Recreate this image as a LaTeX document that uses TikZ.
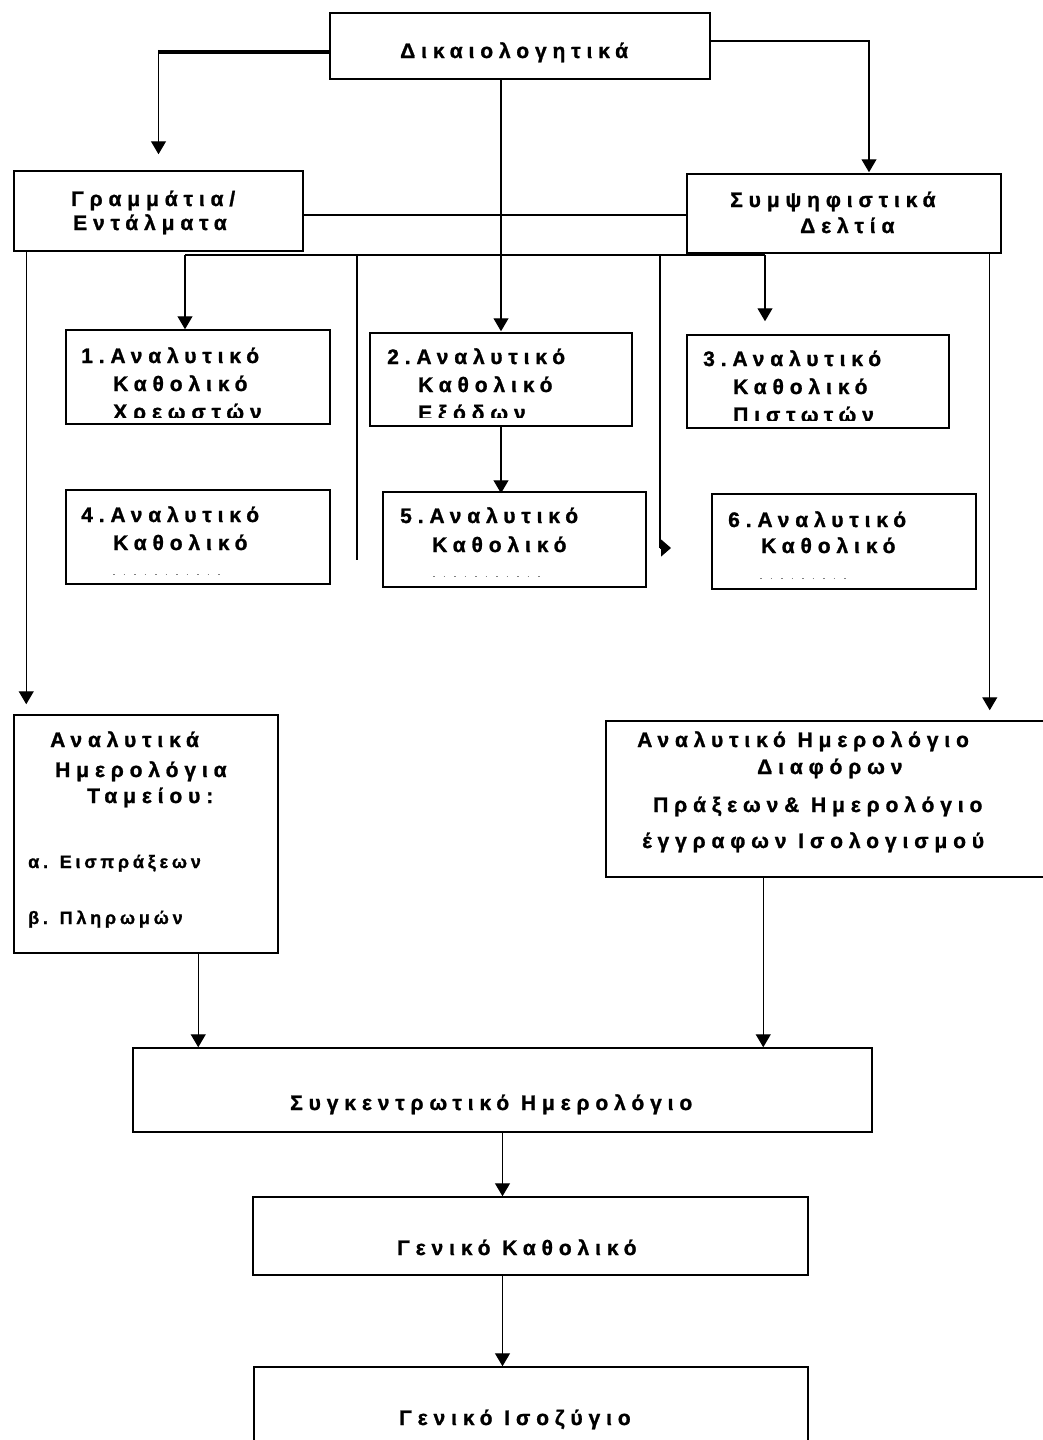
\documentclass[tikz,border=0pt]{standalone}
\usepackage{fontspec}
\setmainfont{Liberation Sans}
\newfontfamily\gf[LetterSpace=28, FakeBold=1.2]{Liberation Sans Bold}
\newfontfamily\gs[LetterSpace=21, FakeBold=1.0]{Liberation Sans Bold}
\usetikzlibrary{arrows.meta,fit}
\begin{document}
\begin{tikzpicture}[x=1pt,y=-1pt,
  box/.style={draw, line width=1.5pt, inner sep=0pt},
  lbl/.style={anchor=base west, inner sep=0pt, font=\gf\fontsize{21}{25}\selectfont},
  lbls/.style={anchor=base west, inner sep=0pt, font=\gs\fontsize{18}{22}\selectfont},
  ln/.style={line width=1.2pt},
  arr/.style={ln, -{Triangle[width=15pt,length=13pt]}},
  rem/.style={line width=1pt, gray, dash pattern=on 1.5pt off 9pt},
]
\useasboundingbox (0,0) rectangle (1043,1440);

% boxes
\node[box, fit={(330,13) (710,79)}] (top) {};
\node[box, fit={(14,171) (303,251)}] (gram) {};
\node[box, fit={(687,174) (1001,253)}] (symp) {};
\node[box, fit={(66,330) (330,424)}] (b1) {};
\node[box, fit={(370,333) (632,426)}] (b2) {};
\node[box, fit={(687,335) (949,428)}] (b3) {};
\node[box, fit={(66,490) (330,584)}] (b4) {};
\node[box, fit={(383,492) (646,587)}] (b5) {};
\node[box, fit={(712,494) (976,589)}] (b6) {};
\node[box, fit={(14,715) (278,953)}] (tam) {};
\node[box, fit={(606,721) (1060,877)}] (diaf) {};
\node[box, fit={(133,1048) (872,1132)}] (synk) {};
\node[box, fit={(253,1197) (808,1275)}] (gk) {};
\node[box, fit={(254,1367) (808,1470)}] (gi) {};

% texts
\node[lbl] (t0) at (400,58) {Δικαιολογητικά};
\node[lbl] (tg1) at (71,206) {Γραμμάτια/};
\node[lbl] (tg2) at (73,230) {Εντάλματα};
\node[lbl] (ts1) at (730,207) {Συμψηφιστικά};
\node[lbl] (ts2) at (800,233) {Δελτία};

\node[lbl] (t11) at (81,363) {1.Αναλυτικό};
\node[lbl] (t12) at (113,391) {Καθολικό};
\begin{scope}
  \clip (b1.north west) rectangle ([yshift=7pt]b1.south east);
  \node[lbl] (t13) at (113,419) {Χρεωστών};
\end{scope}
\node[lbl] (t21) at (387,364) {2.Αναλυτικό};
\node[lbl] (t22) at (418,392) {Καθολικό};
\begin{scope}
  \clip (b2.north west) rectangle ([yshift=9pt]b2.south east);
  \node[lbl] (t23) at (418,420) {Εξόδων};
\end{scope}
\node[lbl] (t31) at (703,366) {3.Αναλυτικό};
\node[lbl] (t32) at (733,394) {Καθολικό};
\begin{scope}
  \clip (b3.north west) rectangle ([yshift=8pt]b3.south east);
  \node[lbl] (t33) at (733,422) {Πιστωτών};
\end{scope}

\node[lbl] (t41) at (81,522) {4.Αναλυτικό};
\node[lbl] (t42) at (113,550) {Καθολικό};
\draw[rem] (113,574) -- (223,574);
\node[lbl] (t51) at (400,523) {5.Αναλυτικό};
\node[lbl] (t52) at (432,552) {Καθολικό};
\draw[rem] (433,576) -- (540,576);
\node[lbl] (t61) at (728,527) {6.Αναλυτικό};
\node[lbl] (t62) at (761,553) {Καθολικό};
\draw[rem] (760,578) -- (853,578);

\node[lbl] (ta1) at (50,747) {Αναλυτικά};
\node[lbl] (ta2) at (55,777) {Ημερολόγια};
\node[lbl] (ta3) at (87,803) {Ταμείου:};
\node[lbls] (ta4) at (28,868) {α. Εισπράξεων};
\node[lbls] (ta5) at (28,924) {β. Πληρωμών};

\node[lbl] (td1) at (637,747) {Αναλυτικό Ημερολόγιο};
\node[lbl] (td2) at (757,774) {Διαφόρων};
\node[lbl] (td3) at (653,812) {Πράξεων\& Ημερολόγιο};
\node[lbl] (td4) at (642,848) {έγγραφων Ισολογισμού};

\node[lbl] (tsk) at (290,1110) {Συγκεντρωτικό Ημερολόγιο};
\node[lbl] (tgk) at (397,1255) {Γενικό Καθολικό};
\node[lbl] (tgi) at (399,1425) {Γενικό Ισοζύγιο};

% connectors
\path ([yshift=-6pt]top.west) coordinate (tl);
\coordinate (tlc) at (gram.north |- tl);
\draw[line width=4.5pt] (tl) -- (tlc);
\draw[arr, shorten >=16pt] ([yshift=2.2pt]tlc) -- (gram.north);

\path ([yshift=5pt]top.east) coordinate (tr);
\draw[arr, shorten >=1pt] (tr) -| ([xshift=25pt]symp.north);

\draw[arr, shorten >=1pt] (top.south -| b2.north) -- (b2.north);

\path ([yshift=-4pt]gram.east) coordinate (hl);
\draw[ln] (hl) -- (hl -| symp.west);

\coordinate (busL) at (185,255);
\coordinate (busR) at (765,255);
\draw[ln] (busL) -- (busR);
\draw[line width=2.6pt] (busL) -- (275,255);
\draw[arr] (busL) -- (busL |- b1.north);
\coordinate (v1t) at (357,255);
\coordinate (v1b) at (357,560);
\draw[ln] (v1t) -- (v1b);
\coordinate (v2t) at (660,255);
\coordinate (v2b) at (660,548);
\coordinate (v2e) at (671,548);
\draw[ln] (v2t) -- (v2b);
\draw[ln, -{Triangle[width=17pt,length=10pt]}] (v2b) -- (v2e);
\draw[arr, shorten >=13pt] (busR) -- (busR |- b3.north);

\path ([xshift=13pt]gram.south west) coordinate (gl);
\draw[arr, shorten >=10pt] (gl) -- (gl |- tam.north);
\path ([xshift=-12pt]symp.south east) coordinate (sr);
\draw[arr, shorten >=10pt] (sr) -- (sr |- diaf.north);

\draw[arr, shorten >=-2pt] (b2.south) -- (b2.south |- b5.north);

\path ([xshift=185pt]tam.south west) coordinate (tb);
\draw[arr] (tb) -- (tb |- synk.north);
\path ([xshift=158pt]diaf.south west) coordinate (db);
\draw[arr] (db) -- (db |- synk.north);
\draw[arr] (synk.south) -- (synk.south |- gk.north);
\draw[arr] (gk.south -| synk.south) -- (synk.south |- gi.north);
\end{tikzpicture}
\end{document}
